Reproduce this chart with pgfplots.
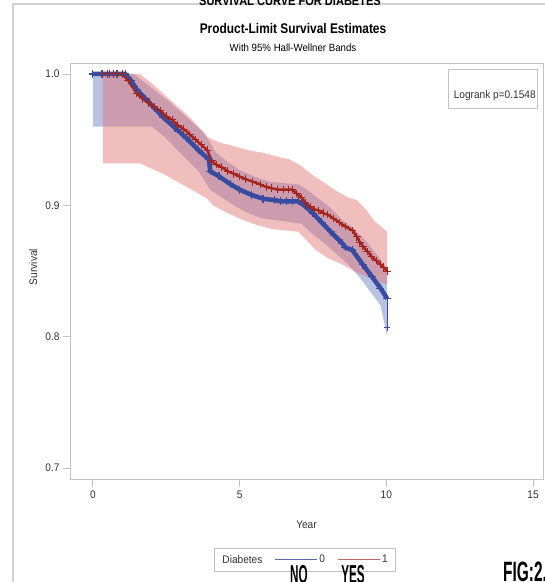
\documentclass[border=0pt]{standalone}
\usepackage{fontspec}
\setmainfont{Liberation Sans}[FakeStretch=0.92]
\newfontfamily\titlefont{Liberation Sans}[FakeStretch=0.85]
\newfontfamily\condfont{Liberation Sans}[FakeStretch=0.55]
\newfontfamily\narrowfont{Liberation Sans}[FakeStretch=0.45]
\usepackage{pgfplots}
\pgfplotsset{compat=1.18}
\usepgfplotslibrary{fillbetween}
\definecolor{kmblue}{RGB}{55,75,160}
\definecolor{kmred}{RGB}{165,35,25}
\definecolor{legblue}{RGB}{90,105,170}
\definecolor{legred}{RGB}{200,100,100}
\definecolor{bandblue}{RGB}{100,120,190}
\definecolor{bandred}{RGB}{225,110,110}
\definecolor{axgray}{RGB}{195,195,195}
\definecolor{txtgray}{RGB}{50,50,50}
\begin{document}
\begin{tikzpicture}
\draw[gray!35, line width=1.2pt] (13pt,0pt) -- (13pt,578pt) -- (545pt,578pt);
\node[font=\titlefont\bfseries\fontsize{13}{13}\selectfont, anchor=base] at (290pt,576pt) {SURVIVAL CURVE FOR DIABETES};
\node[font=\titlefont\bfseries\fontsize{14}{14}\selectfont] at (293pt,554pt) {Product-Limit Survival Estimates};
\node[font=\fontsize{10.5}{11}\selectfont] at (293pt,534pt) {With 95\% Hall-Wellner Bands};
\begin{axis}[at={(70pt,102pt)}, anchor=south west,
  width=473pt, height=416pt, scale only axis,
  xmin=-0.78, xmax=15.34, ymin=0.691, ymax=1.0076,
  xtick={0,5,10,15}, ytick={0.7,0.8,0.9,1.0},
  yticklabel style={/pgf/number format/.cd, fixed, fixed zerofill, precision=1},
  /pgf/number format/assume math mode=true,
  tick label style={font=\fontsize{11}{11}\selectfont, color=txtgray},
  axis line style={axgray, line width=1pt},
  tick style={axgray, line width=0.8pt},
  tick align=outside, major tick length=7pt,
  xtick pos=bottom, ytick pos=left,
  xlabel={Year}, ylabel={Survival},
  label style={font=\fontsize{11}{11}\selectfont, color=txtgray},
  x label style={at={(axis description cs:0.5,-0.108)}, anchor=center},
  y label style={at={(axis description cs:-0.078,0.512)}, anchor=center},
  legend style={at={(axis description cs:0.497,-0.192)}, anchor=center,
    legend columns=3, draw=axgray, font=\fontsize{11}{13}\selectfont, text=txtgray,
    inner xsep=6pt, inner ysep=4.5pt, /tikz/every even column/.append style={column sep=10pt}},
  legend cell align=left,
  legend image code/.code={\draw[#1] (0pt,0pt) -- (42pt,0pt);},
]
% ---- bands, diabetes = 0 ----
\addplot[name path=bu, draw=none, forget plot] coordinates {
(0,1.0) (1.4,1.0) (1.8,0.993) (2.2,0.986) (2.6,0.979) (3.0,0.971) (3.4,0.963) (3.8,0.955)
(4.2,0.940) (4.6,0.933) (5.0,0.927) (5.5,0.922) (6.0,0.918) (7.0,0.916) (7.3,0.912)
(7.7,0.905) (8.1,0.898) (8.5,0.889) (8.9,0.882) (9.3,0.873) (9.7,0.862) (10.03,0.852)};
\addplot[name path=bl, draw=none, forget plot] coordinates {
(0,0.96) (2.0,0.96) (2.4,0.953) (2.8,0.944) (3.2,0.935) (3.6,0.926) (4.0,0.912)
(4.4,0.906) (4.8,0.900) (5.3,0.894) (5.8,0.890) (6.5,0.888) (7.1,0.886) (7.5,0.878)
(7.9,0.871) (8.3,0.863) (8.7,0.855) (9.1,0.845) (9.5,0.833) (9.8,0.824) (10.03,0.800)};
\addplot[bandblue, fill opacity=0.45, draw=none, forget plot] fill between[of=bu and bl];
% ---- bands, diabetes = 1 ----
\addplot[name path=ru, draw=none, forget plot] coordinates {
(0.34,1.0) (1.6,1.0) (2.0,0.993) (2.4,0.985) (2.8,0.977) (3.2,0.969) (3.6,0.960) (3.9,0.952)
(4.3,0.948) (4.8,0.945) (5.3,0.942) (5.8,0.940) (6.3,0.937) (6.7,0.935) (7.1,0.930)
(7.5,0.923) (7.9,0.917) (8.3,0.911) (8.7,0.906) (9.0,0.904) (9.3,0.897) (9.6,0.888) (10.03,0.880)};
\addplot[name path=rl, draw=none, forget plot] coordinates {
(0.34,0.932) (1.6,0.932) (2.0,0.928) (2.4,0.924) (2.8,0.919) (3.2,0.914) (3.6,0.909)
(3.9,0.905) (4.1,0.900) (4.6,0.894) (5.1,0.889) (5.6,0.885) (6.1,0.882) (7.0,0.880)
(7.3,0.873) (7.6,0.866) (8.0,0.860) (8.5,0.855) (8.9,0.850) (9.3,0.846) (9.7,0.842) (10.03,0.840)};
\addplot[bandred, fill opacity=0.45, draw=none, forget plot] fill between[of=ru and rl];
% ---- survival curves ----
\addplot[kmblue, line width=4.5pt, mark=+, mark size=4pt, mark options={line width=1.2pt}, forget plot] coordinates {
(0,1.0) (0.3,1.0) (0.5,1.0) (0.8,1.0) (1.1,1.0) (1.3,0.995) (1.5,0.988) (1.8,0.981) (2.1,0.974) (2.4,0.967)
(2.8,0.959) (3.2,0.951) (3.6,0.942) (3.95,0.935) (4.0,0.926) (4.3,0.922) (4.7,0.916)
(5.0,0.912) (5.4,0.908) (5.8,0.905) (6.2,0.904) (6.4,0.903) (6.6,0.903) (6.8,0.903) (7.0,0.903) (7.2,0.900)
(7.5,0.894) (7.8,0.887) (8.1,0.880) (8.5,0.871) (8.6,0.868) (8.84,0.866) (9.2,0.855)
(9.5,0.846) (9.8,0.837) (10.03,0.829)};
\addplot[kmblue, line width=0.8pt, mark=+, mark size=3pt, mark indices={2}, forget plot] coordinates {
(10.03,0.829) (10.03,0.807)};
\addplot[kmred, line width=2.4pt, mark=+, mark size=3.8pt, mark options={line width=1pt}, forget plot] coordinates {
(0.34,1.0) (0.55,1.0) (0.7,1.0) (0.85,1.0) (1.0,1.0) (1.2,0.995) (1.5,0.985) (1.7,0.981) (1.9,0.978) (2.1,0.975) (2.3,0.972) (2.5,0.968) (2.7,0.965)
(2.9,0.961) (3.1,0.958) (3.3,0.954) (3.5,0.950) (3.7,0.946) (3.9,0.942) (4.05,0.934) (4.2,0.931) (4.4,0.929) (4.6,0.926) (4.8,0.924) (5.0,0.922) (5.2,0.920) (5.45,0.918)
(5.7,0.916) (5.9,0.914) (6.1,0.913) (6.3,0.912) (6.5,0.912) (6.65,0.912) (6.8,0.912) (6.95,0.909) (7.1,0.906)
(7.25,0.902) (7.4,0.899) (7.55,0.897) (7.7,0.896) (7.85,0.894) (8.0,0.893) (8.2,0.890) (8.4,0.887) (8.6,0.884) (8.85,0.881)
(9.0,0.876) (9.1,0.872) (9.2,0.869) (9.35,0.865) (9.5,0.861) (9.65,0.858) (9.8,0.855) (9.9,0.853) (10.03,0.850)};
% ---- legend ----
\addlegendimage{empty legend}
\addlegendentry{Diabetes}
\addlegendimage{legblue, line width=1pt}
\addlegendentry{0}
\addlegendimage{legred, line width=1pt}
\addlegendentry{1}
% ---- logrank box ----
\draw[axgray, line width=0.8pt] (axis description cs:0.799,0.986) rectangle (axis description cs:0.989,0.894);
\node[anchor=east, font=\fontsize{11}{11}\selectfont, text=txtgray, inner sep=0pt] at (axis description cs:0.985,0.923) {Logrank p=0.1548};
\end{axis}
\node[font=\narrowfont\bfseries\fontsize{26}{26}\selectfont, anchor=north, inner sep=0pt] at (299pt,17pt) {NO};
\node[font=\narrowfont\bfseries\fontsize{26}{26}\selectfont, anchor=north, inner sep=0pt] at (353pt,17pt) {YES};
\node[font=\condfont\bfseries\fontsize{28}{28}\selectfont, anchor=north west, inner sep=0pt] at (503pt,20pt) {FIG:2.6};
\pgfresetboundingbox
\path[use as bounding box] (0pt,0pt) rectangle (545pt,582pt);
\end{tikzpicture}
\end{document}
